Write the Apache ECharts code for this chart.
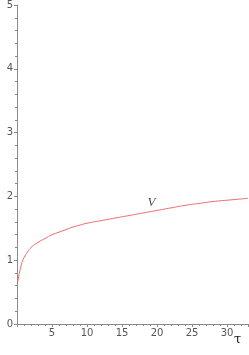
<!DOCTYPE html>
<html><head><meta charset="utf-8">
<script src="https://cdn.jsdelivr.net/npm/echarts@6/dist/echarts.min.js"></script>
<style>html,body{margin:0;padding:0;background:#fff}#c{width:249px;height:355px}</style>
</head><body><div id="c"></div>
<script>
const tau = [0.1, 0.2, 0.4, 0.7, 1, 1.5, 2, 3, 4, 5, 6, 7, 8, 9, 10, 12, 14, 16, 18, 20, 22, 24, 26, 28, 30, 33];
const V   = [0.66, 0.72, 0.83, 0.96, 1.04, 1.13, 1.20, 1.28, 1.34, 1.40, 1.44, 1.48, 1.52, 1.55, 1.58, 1.62, 1.66, 1.70, 1.74, 1.78, 1.82, 1.86, 1.89, 1.92, 1.94, 1.97];
const xMin = 0, xMax = 33, xStep = 5;
const yMin = 0, yMax = 5, yStep = 1;
const curveName = 'V';
const curveLabelAt = [19.2, 1.90];
const xName = 'τ';

const chart = echarts.init(document.getElementById('c'));
const axisCol = '#8a8a8a';
chart.setOption({
  animation: false,
  grid: {left: 17, right: 1, top: 4, bottom: 31, containLabel: false},
  xAxis: {
    type: 'value', min: xMin, max: xMax, interval: xStep,
    axisLine: {show: true, lineStyle: {color: axisCol, width: 1}},
    axisTick: {show: true, length: 3, lineStyle: {color: axisCol}},
    minorTick: {show: true, splitNumber: 5, length: 2, lineStyle: {color: axisCol}},
    splitLine: {show: false},
    axisLabel: {color: '#555', fontSize: 10, fontFamily: 'DejaVu Sans', margin: 4,
      showMinLabel: false, showMaxLabel: false,
      formatter: v => (v % xStep === 0 ? String(v) : '')}
  },
  yAxis: {
    type: 'value', min: yMin, max: yMax, interval: yStep,
    axisLine: {show: true, lineStyle: {color: axisCol, width: 1}},
    axisTick: {show: true, length: 3, lineStyle: {color: axisCol}},
    minorTick: {show: true, splitNumber: 5, length: 2, lineStyle: {color: axisCol}},
    splitLine: {show: false},
    axisLabel: {color: '#555', fontSize: 10, fontFamily: 'DejaVu Sans', margin: 4}
  },
  graphic: [{
    type: 'text', left: 234, top: 333,
    style: {text: xName, fontSize: 13, fontFamily: 'DejaVu Serif', fill: '#222'}
  }],
  series: [{
    type: 'line', name: curveName, showSymbol: false, smooth: true,
    lineStyle: {color: '#f26a6a', width: 1},
    data: tau.map((t, i) => [t, V[i]])
  }, {
    type: 'scatter', name: 'label', symbolSize: 0, silent: true,
    data: [curveLabelAt],
    label: {show: true, position: 'inside', formatter: curveName, fontSize: 13, fontStyle: 'italic',
      fontFamily: 'Liberation Serif', color: '#222'}
  }]
});
</script></body></html>
